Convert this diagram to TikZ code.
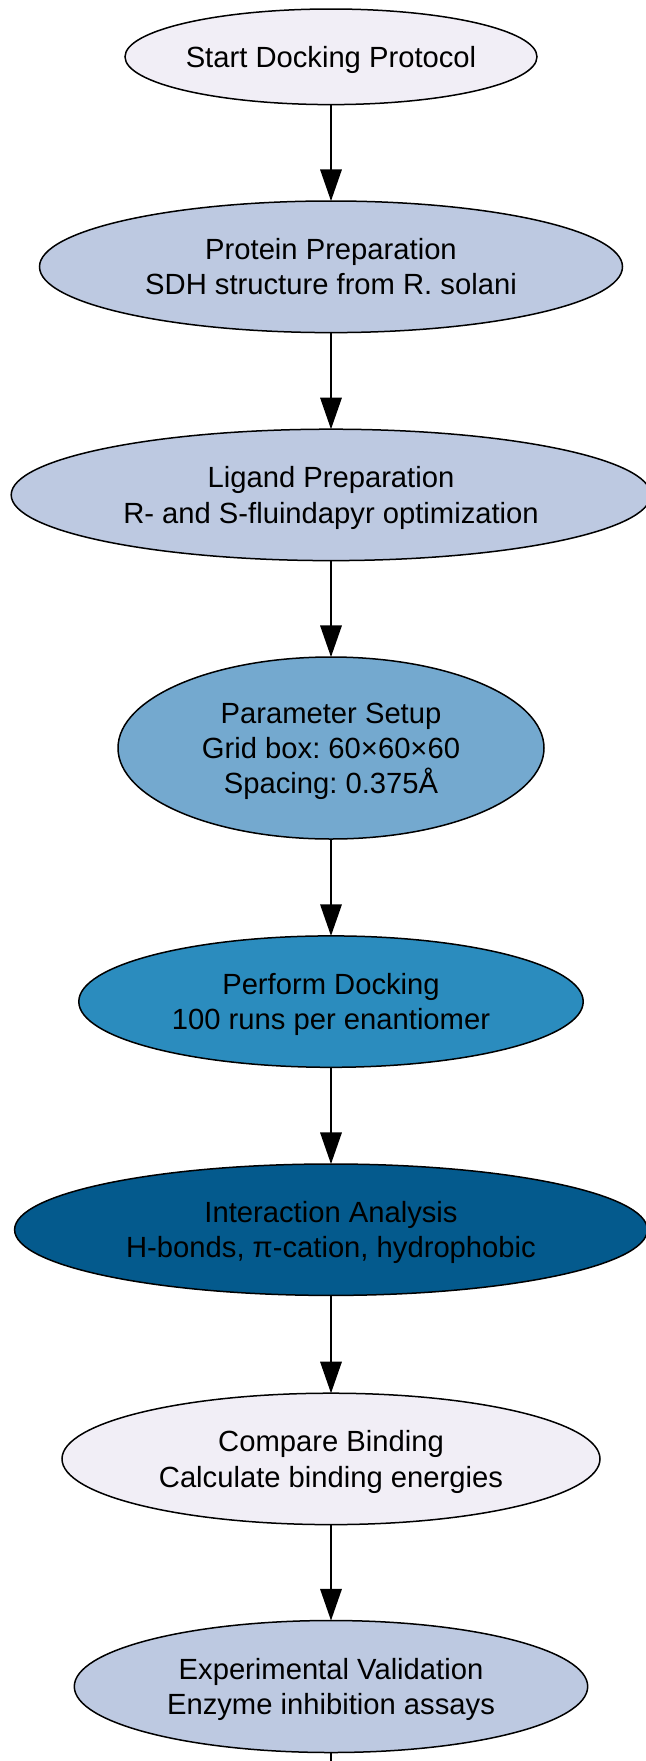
\documentclass[tikz,border=0pt]{standalone}
\usepackage{fontspec}
\setmainfont{Liberation Sans}
\usetikzlibrary{shapes.geometric,arrows.meta}
\definecolor{cA}{HTML}{F1EEF6}
\definecolor{cB}{HTML}{BDC9E1}
\definecolor{cC}{HTML}{74A9CF}
\definecolor{cD}{HTML}{2B8CBE}
\definecolor{cE}{HTML}{045A8D}
\frenchspacing
\tikzset{
  stepnode/.style={ellipse, draw=black, line width=0.75pt, inner sep=0pt, outer sep=0pt, align=center,
    text depth=0pt, font=\fontsize{14.6pt}{17.6pt}\selectfont, text=black},
  flowarrow/.style={line width=0.7pt, -{Triangle[length=15.8pt, width=10.8pt]}},
}
\begin{document}
\begin{tikzpicture}[x=0.5pt, y=-0.5pt]
\useasboundingbox[fill=white] (0,0) rectangle (646,1761);
\node[stepnode, fill=cA, minimum width=206pt, minimum height=47.8pt] (start) at (331,56.8) {Start Docking Protocol};
\node[stepnode, fill=cB, minimum width=291.5pt, minimum height=65.8pt] (prot) at (331,266.8) {Protein Preparation\\SDH structure from R. solani};
\node[stepnode, fill=cB, minimum width=319.8pt, minimum height=65.7pt] (lig) at (331,494.9) {Ligand Preparation\\R- and S-fluindapyr optimization};
\node[stepnode, fill=cC, minimum width=213pt, minimum height=91pt] (param) at (331,748) {Parameter Setup\\Grid box: 60×60×60\\Spacing: 0.375Å};
\node[stepnode, fill=cD, minimum width=252.2pt, minimum height=65.7pt] (dock) at (331,1001.6) {Perform Docking\\100 runs per enantiomer};
\node[stepnode, fill=cE, minimum width=316.4pt, minimum height=65.7pt] (inter) at (331,1229.7) {Interaction Analysis\\H-bonds, π-cation, hydrophobic};
\node[stepnode, fill=cA, minimum width=269pt, minimum height=65.7pt] (comp) at (331,1458.9) {Compare Binding\\Calculate binding energies};
\node[stepnode, fill=cB, minimum width=256.7pt, minimum height=66pt] (exp) at (331,1686.5) {Experimental Validation\\Enzyme inhibition assays};
\coordinate (bottom) at (331,1761);
\draw[flowarrow] (start.south) -- (prot.north);
\draw[flowarrow] (prot.south) -- (lig.north);
\draw[flowarrow] (lig.south) -- (param.north);
\draw[flowarrow] (param.south) -- (dock.north);
\draw[flowarrow] (dock.south) -- (inter.north);
\draw[flowarrow] (inter.south) -- (comp.north);
\draw[flowarrow] (comp.south) -- (exp.north);
\draw[line width=0.7pt] (exp.south) -- (bottom);
\end{tikzpicture}
\end{document}
